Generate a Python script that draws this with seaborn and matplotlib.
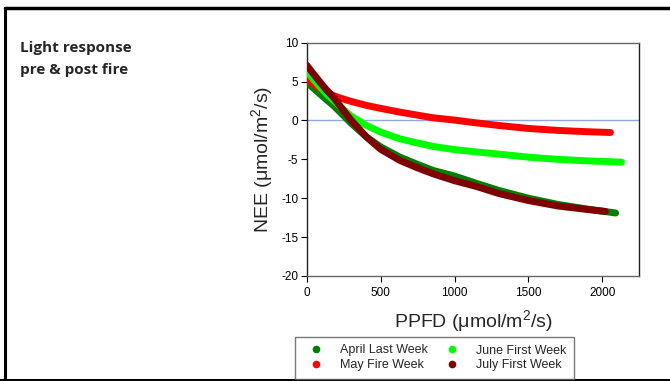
import matplotlib
matplotlib.use("Agg")
import matplotlib.pyplot as plt
from matplotlib.lines import Line2D
import seaborn as sns
import pandas as pd

sns.set_theme(style="white")
plt.rcParams['font.family'] = ['Liberation Sans', 'DejaVu Sans']
plt.rcParams['axes.unicode_minus'] = False
plt.rcParams['mathtext.fontset'] = 'custom'
plt.rcParams['mathtext.rm'] = 'Liberation Sans'

# ---- data ----
april_x = [0, 45, 90, 135, 180, 240, 300, 405, 500, 630, 750, 855, 1000, 1150, 1300, 1500, 1700, 1900, 2090]
april_y = [4.9, 4.15, 3.4, 2.65, 1.93, 0.8, -0.35, -2.14, -3.4, -4.71, -5.65, -6.43, -7.15, -8.1, -9.0, -10.0, -10.8, -11.4, -11.9]

may_x = [0, 45, 90, 135, 180, 240, 300, 405, 500, 630, 750, 855, 1000, 1150, 1300, 1500, 1700, 1900, 2055]
may_y = [5.3, 4.65, 4.1, 3.6, 3.2, 2.8, 2.45, 1.93, 1.55, 1.07, 0.68, 0.34, 0.05, -0.32, -0.65, -1.03, -1.28, -1.45, -1.55]

june_x = [0, 45, 90, 135, 180, 240, 300, 400, 500, 630, 750, 855, 1000, 1150, 1300, 1500, 1700, 1900, 2130]
june_y = [6.35, 5.3, 4.3, 3.4, 2.6, 1.55, 0.55, -0.6, -1.5, -2.36, -2.9, -3.34, -3.75, -4.05, -4.33, -4.72, -5.0, -5.2, -5.36]

july_x = [0, 45, 90, 135, 180, 240, 300, 405, 500, 630, 750, 855, 1000, 1150, 1300, 1500, 1700, 1900, 2020]
july_y = [7.1, 6.0, 4.93, 3.9, 3.0, 1.5, 0.05, -2.14, -3.7, -5.14, -6.1, -6.86, -7.75, -8.5, -9.4, -10.3, -11.0, -11.45, -11.7]

series_names = ["April Last Week", "May Fire Week", "June First Week", "July First Week"]
series_colors = ["#008000", "#FF0000", "#00FF00", "#800000"]
x_ticks = [0, 500, 1000, 1500, 2000]
y_ticks = [-20, -15, -10, -5, 0, 5, 10]

frames = []
for name, xs, ys in zip(series_names, [april_x, may_x, june_x, july_x],
                        [april_y, may_y, june_y, july_y]):
    frames.append(pd.DataFrame({"PPFD": xs, "NEE": ys, "series": name}))
df = pd.concat(frames, ignore_index=True)

fig = plt.figure(figsize=(6.7, 3.81), dpi=100)
ax = fig.add_axes([0.4578, 0.2756, 0.4964, 0.6124])

ax.axhline(0, color="#8EA9DB", lw=1.0, zorder=1)
for name, col in zip(series_names, series_colors):
    sub = df[df["series"] == name]
    sns.lineplot(data=sub, x="PPFD", y="NEE", color=col, lw=5.0, ax=ax,
                 sort=False, legend=False, zorder=3,
                 solid_capstyle="round", solid_joinstyle="round")

ax.set_xlim(0, 2250)
ax.set_ylim(-20, 10)
ax.set_xticks(x_ticks)
ax.set_yticks(y_ticks)
ax.tick_params(axis="both", which="both", direction="out", length=4, width=0.8,
               labelsize=8.5, colors="black", pad=2,
               bottom=True, left=True, top=False, right=False)
ax.tick_params(axis="x", pad=4)
for s in ["left", "right"]:
    ax.spines[s].set_color("#222222")
    ax.spines[s].set_linewidth(1.0)
for s in ["top", "bottom"]:
    ax.spines[s].set_color("#666666")
    ax.spines[s].set_linewidth(1.0)

ax.set_xlabel("PPFD (μmol/m$^2$/s)", fontsize=14, labelpad=7)
ax.set_ylabel("NEE (μmol/m$^2$/s)", fontsize=14, labelpad=4)
ax.grid(False)

handles = [Line2D([], [], marker="o", linestyle="none", markersize=4.5,
                  markerfacecolor=c, markeredgecolor=c) for c in series_colors]
leg = fig.legend(handles, series_names,
                 ncol=2, loc="lower left",
                 bbox_to_anchor=(295 / 670, 1 - 378.5 / 381, (574 - 295) / 670, 42 / 381),
                 mode="expand", borderaxespad=0.0,
                 fontsize=9, frameon=True, fancybox=False,
                 edgecolor="#555555", borderpad=0.6, handletextpad=0.8,
                 labelspacing=0.2, columnspacing=0.4, handlelength=2.2)
leg.get_frame().set_linewidth(1.0)

fam = ["Open Sans", "DejaVu Sans"]
fig.text(20 / 670, 1 - 52 / 381, "Light response", fontsize=11,
         fontweight="bold", family=fam, va="baseline")
fig.text(20 / 670, 1 - 74 / 381, "pre & post fire", fontsize=11,
         fontweight="bold", family=fam, va="baseline")

# slide border
fig.add_artist(Line2D([5 / 670, 5 / 670], [0, 1 - 8 / 381], color="black", lw=2.2,
                      transform=fig.transFigure))
fig.add_artist(Line2D([0, 1], [1 / 381, 1 / 381], color="black", lw=2.2,
                      transform=fig.transFigure))
fig.add_artist(Line2D([5 / 670, 1], [1 - 8 / 381, 1 - 8 / 381], color="black", lw=2.5,
                      transform=fig.transFigure))

fig.savefig("out.png", dpi=100)
